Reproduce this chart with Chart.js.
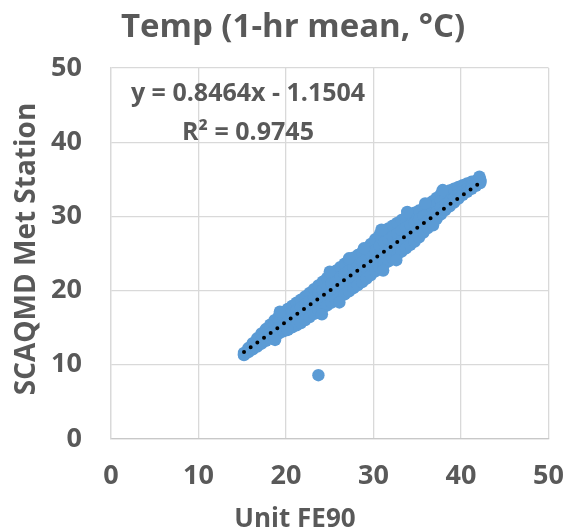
<!DOCTYPE html>
<html>
<head>
<meta charset="utf-8">
<script src="https://cdn.jsdelivr.net/npm/chart.js@4/dist/chart.umd.min.js"></script>
<style>
  html, body { margin: 0; padding: 0; background: #ffffff; }
  #c { display: block; }
</style>
</head>
<body>
<canvas id="c" width="585" height="532"></canvas>
<script>
// ---- Data ----
const chartTitle = "Temp (1-hr mean, °C)";
const xAxisTitle = "Unit FE90";
const yAxisTitle = "SCAQMD Met Station";
const equationText = "y = 0.8464x - 1.1504";
const r2Text = "R² = 0.9745";
const tickValues = [0, 10, 20, 30, 40, 50];

// Unit FE90 values (x) along the dense band
const fe90 = [15.2, 15.7, 16.2, 16.7, 17.2, 17.7, 18.2, 18.7, 19.2, 19.7,
  20.2, 20.7, 21.2, 21.7, 22.2, 22.7, 23.2, 23.7, 24.2, 24.7,
  25.2, 25.7, 26.2, 26.7, 27.2, 27.7, 28.2, 28.7, 29.2, 29.7,
  30.2, 30.7, 31.2, 31.7, 32.2, 32.7, 33.2, 33.7, 34.2, 34.7,
  35.2, 35.7, 36.2, 36.7, 37.2, 37.7, 38.2, 38.7, 39.2, 39.7,
  40.2, 40.7, 41.2, 41.7, 42.2];
// SCAQMD station values at those x: upper edge, upper-middle, lower-middle, lower edge of the band
const stationHigh = [11.6, 12.26, 12.92, 13.57, 14.22, 14.82, 15.42, 16.02, 16.62, 17.10,
  17.52, 17.94, 18.37, 18.79, 19.22, 19.70, 20.20, 20.70, 21.20, 21.70,
  22.20, 22.67, 23.15, 23.62, 24.07, 24.43, 24.79, 25.16, 25.68, 26.30,
  26.93, 27.55, 28.02, 28.39, 28.76, 29.13, 29.51, 29.88, 30.22, 30.51,
  30.79, 31.08, 31.50, 32.00, 32.50, 33.00, 33.24, 33.49, 33.73, 33.97,
  34.21, 34.45, 34.66, 34.82, 34.97];
const stationMidHigh = [11.5, 12.07, 12.64, 13.20, 13.76, 14.29, 14.81, 15.33, 15.82, 16.23,
  16.60, 16.97, 17.35, 17.73, 18.16, 18.61, 19.08, 19.55, 20.01, 20.47,
  20.93, 21.36, 21.81, 22.25, 22.68, 23.06, 23.44, 23.82, 24.32, 24.90,
  25.49, 26.07, 26.52, 26.91, 27.29, 27.68, 28.09, 28.49, 28.86, 29.21,
  29.59, 29.99, 30.47, 31.01, 31.55, 32.09, 32.44, 32.78, 33.11, 33.44,
  33.77, 34.07, 34.34, 34.58, 34.81];
const stationMidLow = [11.4, 11.89, 12.36, 12.83, 13.30, 13.75, 14.21, 14.64, 15.03, 15.37,
  15.69, 16.01, 16.33, 16.68, 17.09, 17.53, 17.97, 18.41, 18.83, 19.23,
  19.65, 20.06, 20.47, 20.87, 21.30, 21.69, 22.08, 22.48, 22.96, 23.50,
  24.04, 24.58, 25.02, 25.42, 25.83, 26.24, 26.67, 27.09, 27.51, 27.91,
  28.39, 28.89, 29.45, 30.02, 30.60, 31.17, 31.65, 32.07, 32.49, 32.92,
  33.34, 33.70, 34.03, 34.35, 34.66];
const stationLow = [11.3, 11.70, 12.08, 12.46, 12.84, 13.22, 13.60, 13.95, 14.23, 14.50,
  14.77, 15.04, 15.31, 15.62, 16.03, 16.44, 16.85, 17.26, 17.64, 18.00,
  18.38, 18.75, 19.13, 19.50, 19.91, 20.32, 20.73, 21.14, 21.60, 22.10,
  22.60, 23.10, 23.52, 23.94, 24.36, 24.79, 25.25, 25.70, 26.15, 26.61,
  27.19, 27.80, 28.42, 29.03, 29.65, 30.26, 30.85, 31.36, 31.87, 32.39,
  32.90, 33.32, 33.71, 34.11, 34.50];
// points that stick out of the band edges
const edgeX = [19.3, 25.0, 27.2, 28.9, 30.9, 33.85, 35.9, 37.9, 42.1,
  18.75, 20.2, 24.1, 26.1, 31.1, 32.6, 36.8];
const edgeY = [17.15, 22.55, 24.35, 25.7, 28.2, 30.6, 31.75, 33.55, 35.35,
  13.35, 14.7, 16.8, 18.4, 22.7, 24.1, 28.8];
// isolated point below the band
const outlierX = [23.7];
const outlierY = [8.6];
// linear trendline end points (from the displayed equation)
const trendX = [15.2, 42.1];
const trendY = [11.72, 34.48];

// ---- Build the tables Chart.js needs ----
const scatterPts = [];
[stationHigh, stationMidHigh, stationMidLow, stationLow].forEach(arr => {
  fe90.forEach((x, i) => scatterPts.push({ x: x, y: arr[i] }));
});
edgeX.forEach((x, i) => scatterPts.push({ x: x, y: edgeY[i] }));
outlierX.forEach((x, i) => scatterPts.push({ x: x, y: outlierY[i] }));
const trendPts = trendX.map((x, i) => ({ x: x, y: trendY[i] }));

const TXT = '#595959';
const FONT = '"Open Sans", "Liberation Sans", sans-serif';

const textPlugin = {
  id: 'texts',
  afterDraw(chart) {
    const ctx = chart.ctx;
    ctx.save();
    ctx.fillStyle = TXT;
    ctx.textAlign = 'center';
    ctx.textBaseline = 'alphabetic';
    ctx.font = 'bold 33px ' + FONT;
    ctx.fillText(chartTitle, 293, 37);
    ctx.font = 'bold 25px ' + FONT;
    ctx.fillText(equationText, 248, 101);
    ctx.fillText(r2Text, 248, 139.5);
    ctx.font = 'bold 26px ' + FONT;
    ctx.fillText(xAxisTitle, 295, 527);
    ctx.font = 'bold 28px ' + FONT;
    ctx.translate(35, 249);
    ctx.rotate(-Math.PI / 2);
    ctx.fillText(yAxisTitle, 0, 0);
    ctx.restore();
  }
};

new Chart(document.getElementById('c'), {
  type: 'scatter',
  data: {
    datasets: [
      {
        type: 'line',
        label: 'Linear trend',
        data: trendPts,
        borderColor: '#000000',
        borderWidth: 4,
        borderDash: [0, 8.2],
        borderCapStyle: 'round',
        pointRadius: 0,
        fill: false,
        order: 0
      },
      {
        label: 'Temp',
        data: scatterPts,
        backgroundColor: '#5B9BD5',
        borderColor: '#5B9BD5',
        borderWidth: 0,
        pointRadius: 6.2,
        pointHoverRadius: 6.2,
        order: 1
      }
    ]
  },
  options: {
    responsive: false,
    devicePixelRatio: 1,
    animation: false,
    layout: { padding: { top: 68, right: 20, bottom: 0, left: 0 } },
    plugins: { legend: { display: false }, tooltip: { enabled: false }, title: { display: false } },
    scales: {
      x: {
        type: 'linear', min: 0, max: 50,
        afterBuildTicks(s) { s.ticks = tickValues.map(v => ({ value: v })); },
        afterFit(s) { s.height = 93; },
        ticks: { color: TXT, font: { family: FONT, size: 27, weight: 'bold' }, padding: 21, maxRotation: 0 },
        grid: { color: '#D9D9D9', lineWidth: 1.3, drawTicks: false },
        border: { color: '#C8C8C8', width: 1.3 }
      },
      y: {
        type: 'linear', min: 0, max: 50,
        afterBuildTicks(s) { s.ticks = tickValues.map(v => ({ value: v })); },
        afterFit(s) { s.width = 111; },
        ticks: { color: TXT, font: { family: FONT, size: 27, weight: 'bold' }, padding: 29 },
        grid: { color: '#D9D9D9', lineWidth: 1.3, drawTicks: false },
        border: { color: '#D9D9D9', width: 1.3 }
      }
    }
  },
  plugins: [textPlugin]
});
</script>
</body>
</html>
